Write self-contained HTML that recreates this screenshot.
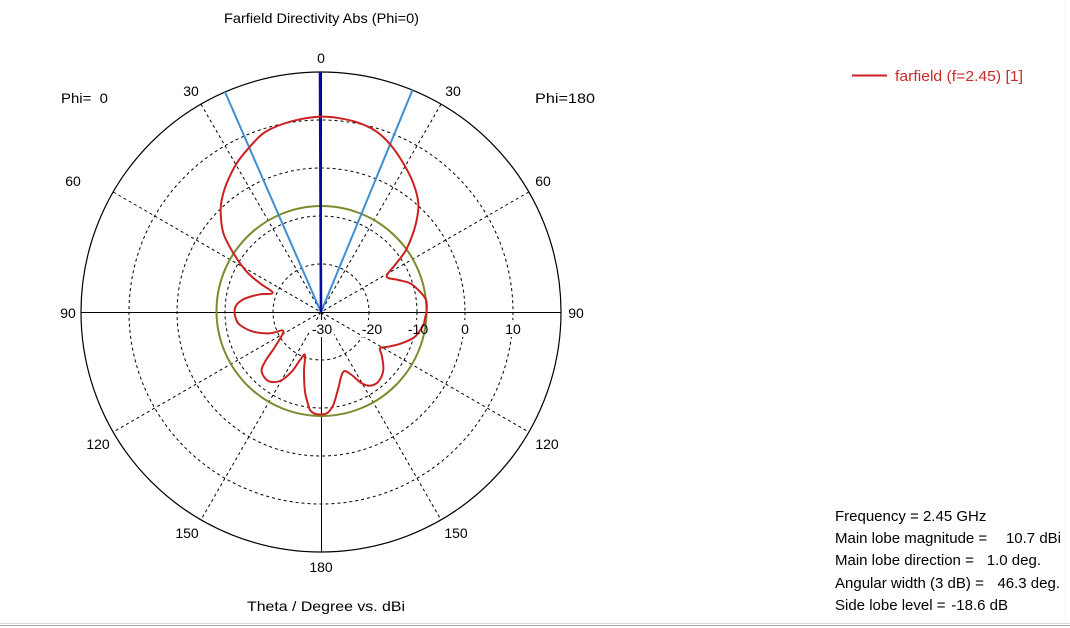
<!DOCTYPE html>
<html>
<head>
<meta charset="utf-8">
<style>
  html,body{margin:0;padding:0;background:#fff;}
  body{width:1070px;height:628px;overflow:hidden;position:relative;}
  svg{position:absolute;left:0;top:0;}
  text{font-family:"Liberation Sans",sans-serif;font-size:14px;fill:#000;}
  .info{font-size:15px;}
</style>
</head>
<body>
<svg width="1070" height="628" viewBox="0 0 1070 628" xmlns="http://www.w3.org/2000/svg">
  <rect x="0" y="0" width="1070" height="628" fill="#fff"/>

  <!-- title -->
  <text x="224" y="23" textLength="195" lengthAdjust="spacingAndGlyphs">Farfield Directivity Abs (Phi=0)</text>

  <!-- dashed grid circles -->
  <g fill="none" stroke="#000" stroke-width="1" stroke-dasharray="3,3">
    <circle cx="321" cy="312" r="48"/>
    <circle cx="321" cy="312" r="96"/>
    <circle cx="321" cy="312" r="144"/>
    <circle cx="321" cy="312" r="192"/>
    <line x1="201" y1="104.2" x2="441" y2="519.8"/>
    <line x1="441" y1="104.2" x2="201" y2="519.8"/>
    <line x1="113.2" y1="192" x2="528.8" y2="432"/>
    <line x1="528.8" y1="192" x2="113.2" y2="432"/>
  </g>

  <!-- outer circle and axes -->
  <circle cx="321" cy="312" r="240" fill="none" stroke="#000" stroke-width="1.2"/>
  <line x1="321.5" y1="72" x2="321.5" y2="552" stroke="#000" stroke-width="1"/>
  <line x1="81" y1="312.5" x2="561" y2="312.5" stroke="#000" stroke-width="1"/>

  <!-- radial label backgrounds -->
  <g fill="#fff">
    <rect x="310" y="320" width="24" height="17"/>
    <rect x="360" y="320" width="24" height="17"/>
    <rect x="406" y="320" width="24" height="17"/>
    <rect x="458" y="320" width="14" height="17"/>
    <rect x="503" y="320" width="20" height="17"/>
  </g>

  <!-- green side lobe circle -->
  <circle cx="321.5" cy="311" r="105" fill="none" stroke="#7d8a2e" stroke-width="2"/>

  <!-- 3dB beam lines -->
  <line x1="321" y1="312" x2="225" y2="92" stroke="#3d8fd2" stroke-width="2"/>
  <line x1="321" y1="312" x2="412.5" y2="90" stroke="#3d8fd2" stroke-width="2"/>

  <!-- main lobe direction -->
  <line x1="320" y1="72" x2="321" y2="312" stroke="#0a0aa0" stroke-width="2.6"/>

  <!-- red pattern -->
  <path id="pat" fill="none" stroke="#cc2020" stroke-width="2" stroke-linejoin="round" d="M320,116.7 L340,118.3 L360,123.3 L376.7,131.7 L390.7,145 L403.3,163.3 L413.3,183.3 L418.3,203 L416.7,220 L411.7,237 L405,251.7 L395,265 L386.7,276.5 L398.3,280 L410,283.3 L420,291.7 L426,300 L426.7,310 L425,318.3 L423.3,325 L415,336.7 L401.7,343.3 L388.3,346.7 L380,348.3 L381.7,355 L383.3,370 L378.3,381.7 L370,385.7 L361.7,383.3 L351.7,375 L345,371 L341.7,375 L338.3,388.3 L333.3,405 L328,412.5 L323,414.3 L315,413.8 L310,410 L308.3,405 L305,391.7 L304,371.7 L305,355 L300,360 L291.7,371.7 L280,381 L268.3,381 L261.7,371.7 L265,361.7 L275,346.7 L283.3,331 L270,333.3 L253.3,331.7 L240,325 L236,319 L234.5,312 L236.5,305 L243,299.5 L251,296.5 L260,294.3 L272.7,292.7 L260,283.3 L246.7,271.7 L233.3,253 L223.3,233 L220.7,213 L221.7,200 L226.7,183.3 L236.7,163.3 L249.3,147.3 L263.3,133.3 L280,125 L300,119.3 Z"/>

  <!-- angle labels -->
  <text x="321" y="63" text-anchor="middle">0</text>
  <text x="191" y="96" text-anchor="middle">30</text>
  <text x="453" y="96" text-anchor="middle">30</text>
  <text x="73" y="186" text-anchor="middle">60</text>
  <text x="543" y="186" text-anchor="middle">60</text>
  <text x="68" y="318" text-anchor="middle">90</text>
  <text x="576" y="318" text-anchor="middle">90</text>
  <text x="98" y="449" text-anchor="middle">120</text>
  <text x="547" y="449" text-anchor="middle">120</text>
  <text x="187" y="538" text-anchor="middle">150</text>
  <text x="456" y="538" text-anchor="middle">150</text>
  <text x="321" y="572" text-anchor="middle">180</text>

  <text x="61" y="103" xml:space="preserve" textLength="47" lengthAdjust="spacingAndGlyphs">Phi=  0</text>
  <text x="535" y="103" textLength="60" lengthAdjust="spacingAndGlyphs">Phi=180</text>

  <!-- radial labels -->
  <text x="322" y="334" text-anchor="middle">-30</text>
  <text x="372" y="334" text-anchor="middle">-20</text>
  <text x="418" y="334" text-anchor="middle">-10</text>
  <text x="465" y="334" text-anchor="middle">0</text>
  <text x="513" y="334" text-anchor="middle">10</text>

  <text x="247" y="611" textLength="158" lengthAdjust="spacingAndGlyphs">Theta / Degree vs. dBi</text>

  <!-- legend -->
  <line x1="852" y1="75.5" x2="887" y2="75.5" stroke="#cc2020" stroke-width="2"/>
  <text x="895" y="81" class="info" style="fill:#cc2a2a" textLength="128" lengthAdjust="spacingAndGlyphs">farfield (f=2.45) [1]</text>

  <!-- info box -->
  <text class="info" x="835" y="521">Frequency = 2.45 GHz</text>
  <text class="info" x="835" y="543">Main lobe magnitude =</text>
  <text class="info" x="1061" y="543" text-anchor="end">10.7 dBi</text>
  <text class="info" x="835" y="565">Main lobe direction =</text>
  <text class="info" x="1041" y="565" text-anchor="end">1.0 deg.</text>
  <text class="info" x="835" y="588">Angular width (3 dB) =</text>
  <text class="info" x="1060" y="588" text-anchor="end">46.3 deg.</text>
  <text class="info" x="835" y="610">Side lobe level =</text>
  <text class="info" x="1008" y="610" text-anchor="end">-18.6 dB</text>

  <!-- bottom frame -->
  <line x1="0" y1="623.5" x2="1070" y2="623.5" stroke="#d6d6d6" stroke-width="1"/>
  <line x1="0" y1="625.5" x2="1070" y2="625.5" stroke="#a8a8a8" stroke-width="1"/>
  <line x1="1065.5" y1="0" x2="1065.5" y2="623" stroke="#f2f2f2" stroke-width="1"/>
</svg>
<script>
(function(){
  var el=document.getElementById('pat');
  if(!el)return;
  var d=el.getAttribute('d');
  var nums=d.replace(/[MLZ]/g,' ').trim().split(/[\s,]+/).map(Number);
  var p=[];
  for(var i=0;i<nums.length;i+=2)p.push([nums[i],nums[i+1]]);
  var n=p.length;
  var s='M'+p[0][0]+','+p[0][1];
  for(var i=0;i<n;i++){
    var p0=p[(i-1+n)%n],p1=p[i],p2=p[(i+1)%n],p3=p[(i+2)%n];
    var c1x=p1[0]+(p2[0]-p0[0])/6, c1y=p1[1]+(p2[1]-p0[1])/6;
    var c2x=p2[0]-(p3[0]-p1[0])/6, c2y=p2[1]-(p3[1]-p1[1])/6;
    s+=' C'+c1x.toFixed(2)+','+c1y.toFixed(2)+' '+c2x.toFixed(2)+','+c2y.toFixed(2)+' '+p2[0]+','+p2[1];
  }
  s+=' Z';
  el.setAttribute('d',s);
})();
</script>
</body>
</html>
